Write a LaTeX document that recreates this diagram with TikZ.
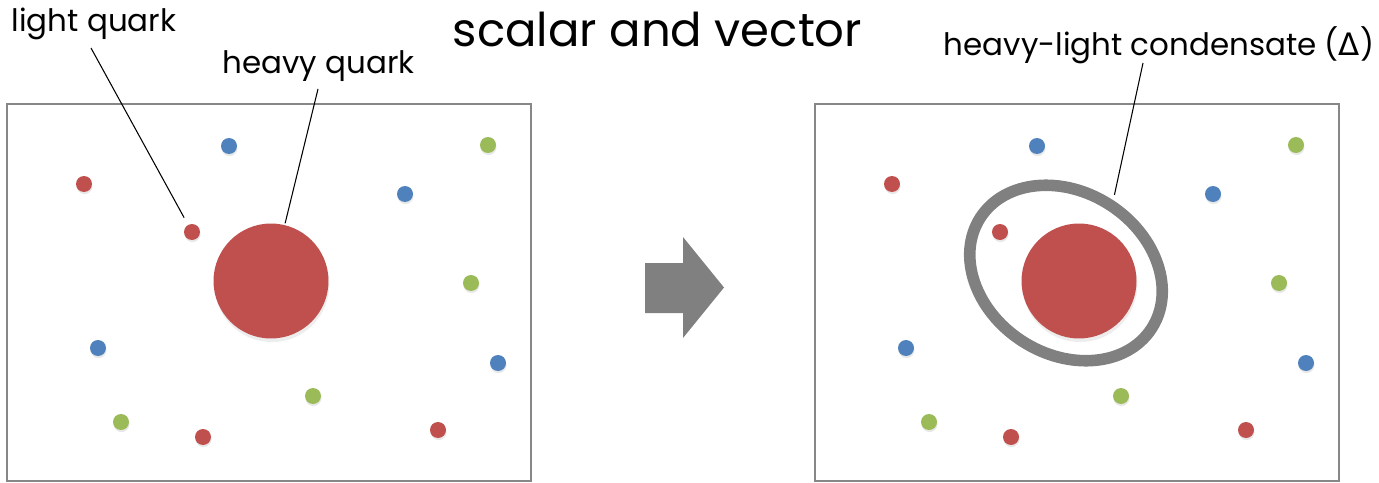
\documentclass[tikz,border=0pt]{standalone}
\usepackage{fontspec}
\setmainfont{Poppins}
\newfontfamily\deltafont{DejaVu Sans}
\usepackage{xcolor}
\usepackage{tikz}
\usetikzlibrary{shapes.geometric,shadows}

\definecolor{qred}{RGB}{192,80,77}
\definecolor{qblue}{RGB}{79,129,189}
\definecolor{qgreen}{RGB}{155,187,89}
\definecolor{framegray}{RGB}{135,135,135}
\definecolor{ringgray}{RGB}{128,128,128}

\begin{document}
\begin{tikzpicture}[x=0.02cm, y=-0.02cm,
    qdot/.style={circle, inner sep=0pt, minimum size=0.32cm,
        drop shadow={opacity=0.18, shadow xshift=0.3pt, shadow yshift=-1.2pt}},
    heavyq/.style={circle, fill=qred, inner sep=0pt, minimum size=2.3cm,
        drop shadow={opacity=0.14, shadow xshift=0.5pt, shadow yshift=-2pt}},
    frame/.style={draw=framegray, line width=1.2pt},
    leader/.style={line width=0.6pt},
    lbltext/.style={anchor=base, inner sep=0pt, font=\fontsize{17.6}{21}\selectfont},
    titletext/.style={anchor=base, inner sep=0pt, font=\fontsize{26.5}{32}\selectfont}]
    \useasboundingbox (0,0) rectangle (1379,483);

    % Boxes
    \draw[frame] (7,104) rectangle (531,481);
    \draw[frame] (815,104) rectangle (1339,481);

    % Light quarks, left and right
    \foreach \x/\y/\c [count=\i] in {229/146/qblue, 488/145/qgreen, 84/184/qred,
        405/194/qblue, 192/232/qred, 471/283/qgreen, 98/348/qblue, 498/363/qblue,
        313/396/qgreen, 121/422/qgreen, 203/437/qred, 438/430/qred} {
        \node[qdot, fill=\c] (L\i) at (\x,\y) {};
        \node[qdot, fill=\c] (R\i) at (\x+808,\y) {};
    }

    % Heavy quarks
    \node[heavyq] (Lheavy) at (271,281) {};
    \node[heavyq] (Rheavy) at (1079,281) {};

    % Condensate
    \node[draw=ringgray, ellipse, line width=6.6pt, inner sep=0pt,
        minimum width=4.08cm, minimum height=3.24cm, rotate=-33] (ring) at (1066,273) {};

    % Big arrow
    \fill[ringgray] (645,263) -- (683,263) -- (683,237) -- (724,287.5)
        -- (683,338) -- (683,313) -- (645,313) -- cycle;

    % Labels
    \node[titletext] (title) at (657.5,46.5) {scalar and vector};
    \node[lbltext] (lqlabel) at (94,32) {light quark};
    \node[lbltext] (hqlabel) at (318.5,74) {heavy quark};
    \node[lbltext] (dlabel) at (1159,56) {heavy-light condensate ({\deltafont Δ})};

    % Leaders
    \coordinate (lqfoot) at (91,48);
    \coordinate (hqfoot) at (318,89);
    \coordinate (dfoot) at (1143,63);
    \draw[leader, shorten >=0.16cm] (lqfoot) -- (L5);
    \draw[leader, shorten >=0.03cm] (hqfoot) -- (Lheavy);
    \draw[leader, shorten >=0.11cm] (dfoot) -- (ring.north);
\end{tikzpicture}
\end{document}
